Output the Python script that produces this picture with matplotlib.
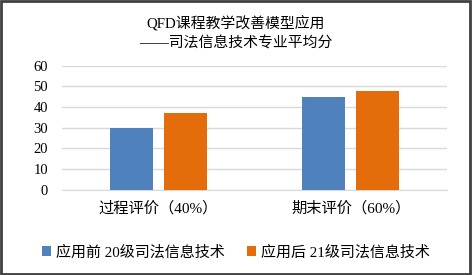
import matplotlib
matplotlib.use("Agg")
import matplotlib.pyplot as plt
import numpy as np

plt.rcParams['font.family'] = ['Liberation Serif', 'Noto Sans CJK SC', 'DejaVu Sans']

categories = ["过程评价（40%）", "期末评价（60%）"]
series_names = ["应用前 20级司法信息技术", "应用后 21级司法信息技术"]
before = [30, 45]
after = [37, 48]
yticks = [0, 10, 20, 30, 40, 50, 60]
colors = ["#4F81BD", "#E46C0A"]

fig = plt.figure(figsize=(4.72, 2.75), dpi=100)
ax = fig.add_axes([0.1314, 0.310, 0.8156, 0.451])

x = np.arange(len(categories))
w = 0.223
off = 0.14
ax.bar(x - off, before, w, color=colors[0], label=series_names[0], zorder=3)
ax.bar(x + off, after, w, color=colors[1], label=series_names[1], zorder=3)

ax.set_xlim(-0.5, 1.5)
ax.set_ylim(0, 60)
ax.set_yticks(yticks)
ax.set_xticks(x)
ax.set_xticklabels(categories, fontsize=11)
ax.tick_params(axis='y', length=0, pad=10, labelsize=10.5)
ax.tick_params(axis='x', length=0, pad=8)
ax.grid(axis='y', color='#D9D9D9', linewidth=1, zorder=0)
for s in ['top', 'right', 'left']:
    ax.spines[s].set_visible(False)
ax.spines['bottom'].set_color('#D9D9D9')

fig.text(0.5, 0.918, "QFD课程教学改善模型应用", ha='center', va='center', fontsize=10.7)
fig.text(0.5, 0.843, "——司法信息技术专业平均分", ha='center', va='center', fontsize=10.7)

fig.legend(loc='center', bbox_to_anchor=(0.5, 0.083), ncol=2, frameon=False,
           fontsize=10.8, handlelength=0.6, handleheight=0.6, handletextpad=0.3,
           columnspacing=1.5)

# outer border
fig.patches.append(plt.Rectangle((0.002, 0.004), 0.994, 0.992, transform=fig.transFigure,
                                 fill=False, edgecolor='#404040', linewidth=2))

fig.savefig("out.png", dpi=100)
